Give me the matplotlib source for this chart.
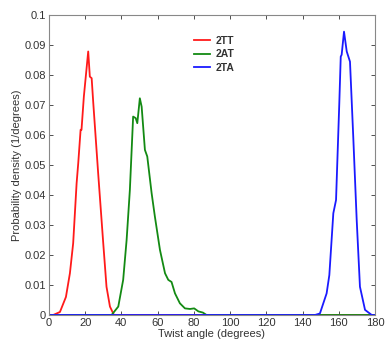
import matplotlib
matplotlib.use("Agg")
import matplotlib.pyplot as plt

# =========================
# DATA
# =========================
tt_x = [0, 2.4, 6.1, 9.4, 11.6, 13.4, 15.3, 16.2, 17.5, 18.0, 19.3, 21.7,
        22.6, 23.6, 24.5, 27.2, 30.0, 31.8, 33.7, 35.9, 180]
tt_y = [0, 0, 0.001, 0.006, 0.0139, 0.0239, 0.0439, 0.0506, 0.0617, 0.0617,
        0.0728, 0.0878, 0.0794, 0.0789, 0.0706, 0.0472, 0.0239, 0.0094,
        0.0028, 0, 0]

at_x = [0, 34.6, 38.3, 41.0, 42.9, 44.7, 46.5, 47.9, 48.8, 50.2, 51.2, 53.0,
        54.3, 56.7, 58.5, 61.3, 64.1, 65.9, 67.7, 69.6, 72.3, 75.1, 77.9,
        80.2, 82.5, 85.0, 87.0, 180]
at_y = [0, 0, 0.0028, 0.0117, 0.025, 0.0417, 0.0661, 0.0656, 0.0639, 0.0722,
        0.0694, 0.055, 0.0528, 0.0406, 0.0328, 0.0217, 0.0139, 0.0117, 0.011,
        0.0072, 0.0039, 0.0022, 0.002, 0.0022, 0.0012, 0.0008, 0, 0]

ta_x = [0, 146.9, 149.6, 153.3, 154.8, 157.0, 158.5, 160.3, 161.1, 161.6,
        162.9, 164.4, 166.2, 168.0, 169.9, 171.7, 174.5, 178.2, 180]
ta_y = [0, 0, 0.0005, 0.0072, 0.0133, 0.0339, 0.0383, 0.0706, 0.0861, 0.0867,
        0.0944, 0.0878, 0.0844, 0.0594, 0.0317, 0.0094, 0.0017, 0, 0]

x_ticks = [0, 20, 40, 60, 80, 100, 120, 140, 160, 180]
y_ticks = [0, 0.01, 0.02, 0.03, 0.04, 0.05, 0.06, 0.07, 0.08, 0.09, 0.1]
y_labels = ["0", "0.01", "0.02", "0.03", "0.04", "0.05", "0.06", "0.07",
            "0.08", "0.09", "0.1"]

# =========================
# PLOT
# =========================
plt.rcParams["font.family"] = ["Liberation Sans", "DejaVu Sans"]

fig = plt.figure(figsize=(3.85, 3.45), dpi=100)
ax = fig.add_axes([0.127, 0.087, 0.847, 0.870])

ax.plot(tt_x, tt_y, color="#ff1a1a", lw=1.3, label="2TT")
ax.plot(at_x, at_y, color="#138a13", lw=1.3, label="2AT")
ax.plot(ta_x, ta_y, color="#1a1aff", lw=1.3, label="2TA")

ax.set_xlim(0, 180)
ax.set_ylim(0, 0.1)
ax.set_xticks(x_ticks)
ax.set_yticks(y_ticks)
ax.set_yticklabels(y_labels)
ax.tick_params(direction="in", top=True, right=True, labelsize=8,
               length=3, width=0.6, colors="#333333", pad=2)
for sp in ax.spines.values():
    sp.set_color("#888888")
    sp.set_linewidth(0.8)

ax.set_xlabel("Twist angle (degrees)", fontsize=8, color="#333333", labelpad=1)
ax.set_ylabel("Probability density (1/degrees)", fontsize=8, color="#333333",
              labelpad=2)

leg = ax.legend(loc="upper left", bbox_to_anchor=(0.415, 0.962), frameon=False,
                prop={"size": 7.5, "weight": "bold"}, handlelength=1.6,
                handletextpad=0.5, labelspacing=0.35)
for t in leg.get_texts():
    t.set_color("#333333")

plt.savefig("out.png", dpi=100)
plt.close()
